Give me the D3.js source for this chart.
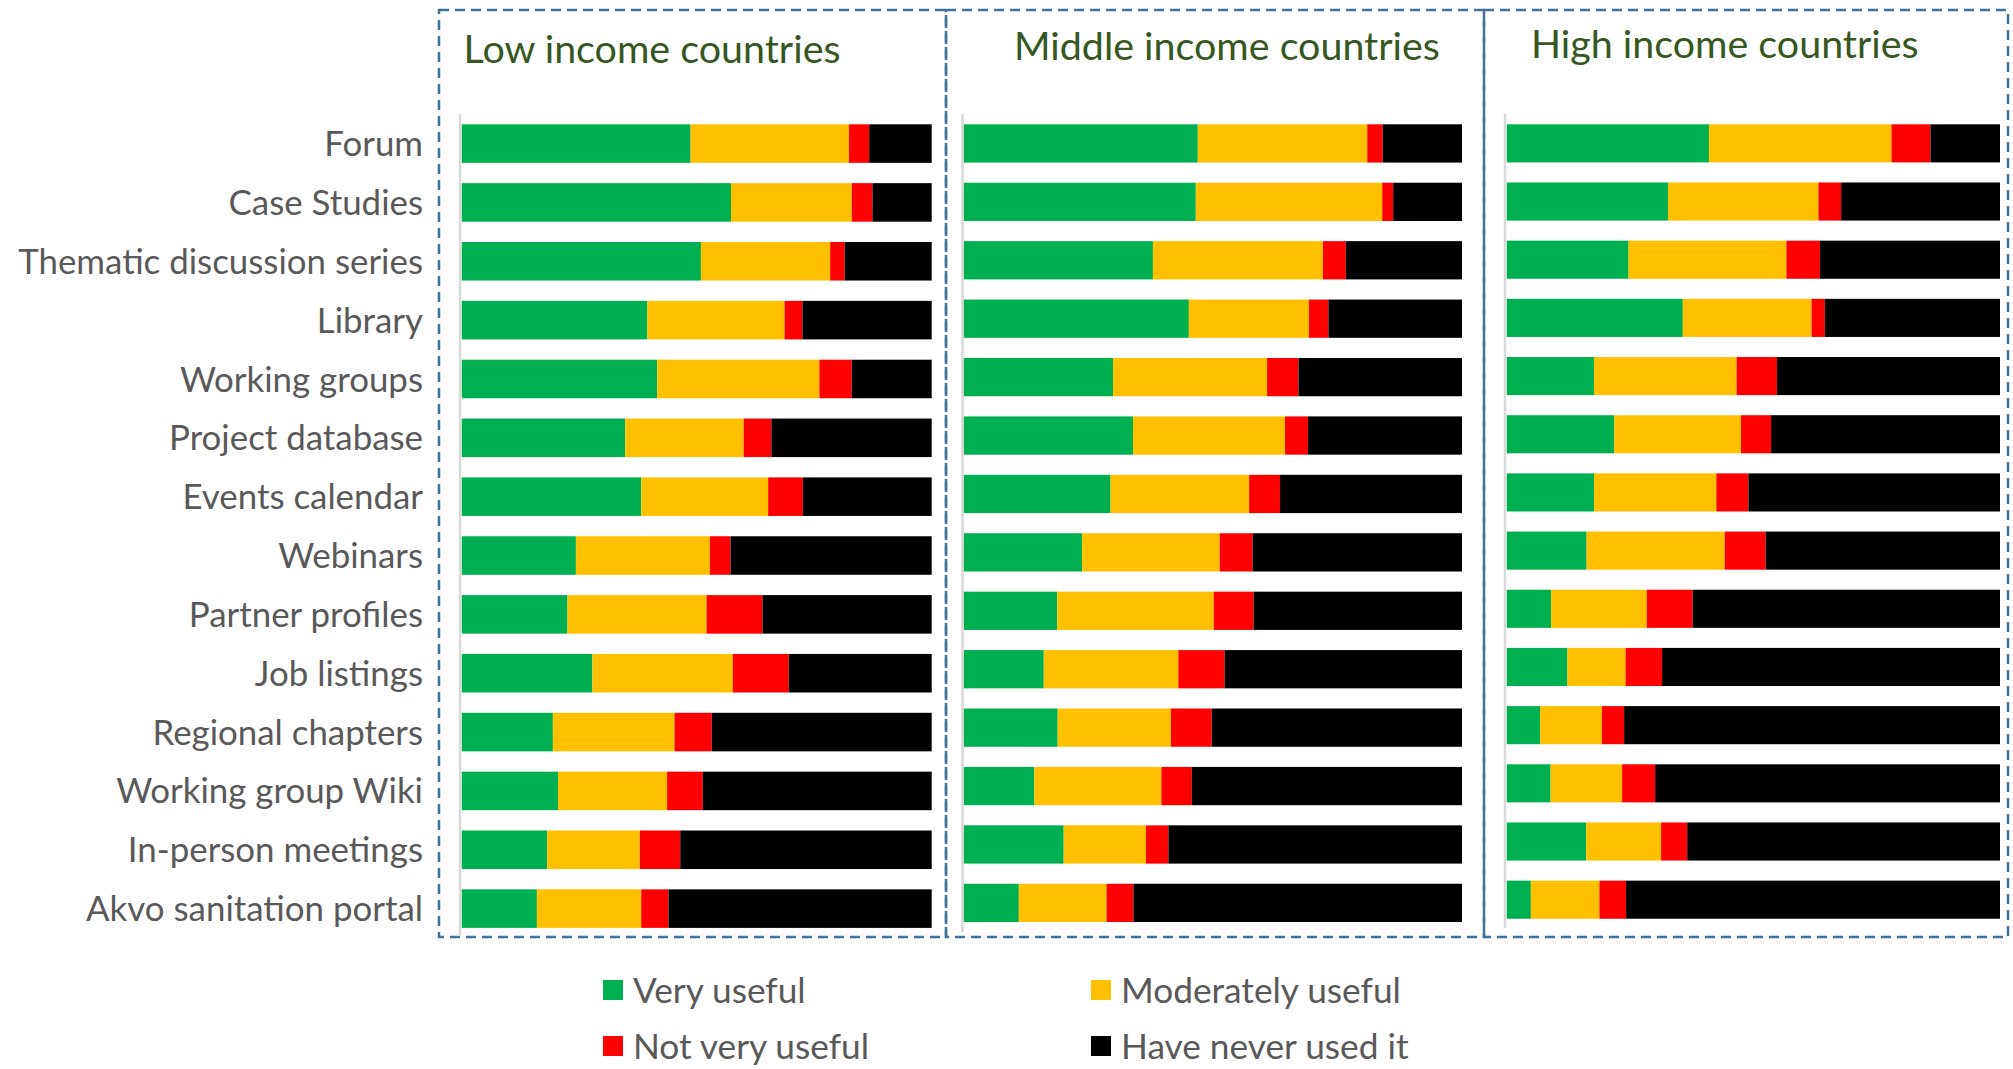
<!DOCTYPE html>
<html><head><meta charset="utf-8">
<script src="https://cdn.jsdelivr.net/npm/d3@7"></script>
<style>html,body{margin:0;padding:0;background:#fff;}svg{display:block;}</style>
</head><body>
<script>
const categories = ["Forum","Case Studies","Thematic discussion series","Library","Working groups","Project database","Events calendar","Webinars","Partner profiles","Job listings","Regional chapters","Working group Wiki","In-person meetings","Akvo sanitation portal"];
const seriesNames = ["Very useful","Moderately useful","Not very useful","Have never used it"];
const panelTitles = ["Low income countries","Middle income countries","High income countries"];

const lowVery     = [48.7,57.3,50.9,39.5,41.6,34.8,38.2,24.3,22.5,27.8,19.4,20.5,18.2,16.0];
const lowModerate = [33.7,25.7,27.5,29.2,34.5,25.2,27.0,28.5,29.6,29.9,25.9,23.2,19.7,22.2];
const lowNotVery  = [4.3,4.4,3.1,3.8,6.9,5.9,7.4,4.4,11.9,11.9,7.9,7.6,8.6,5.8];
const lowNever    = [13.3,12.6,18.5,27.5,17.0,34.1,27.4,42.8,36.0,30.4,46.8,48.7,53.5,56.0];

const midVery     = [47.0,46.6,38.0,45.2,30.0,34.0,29.5,23.8,18.8,16.1,18.9,14.2,20.1,11.1];
const midModerate = [34.0,37.4,34.1,24.1,30.9,30.5,27.8,27.6,31.4,27.0,22.7,25.5,16.5,17.6];
const midNotVery  = [3.1,2.2,4.6,3.9,6.3,4.6,6.2,6.6,8.0,9.3,8.2,6.1,4.5,5.4];
const midNever    = [15.9,13.8,23.3,26.8,32.8,30.9,36.5,42.0,41.8,47.6,50.2,54.2,58.9,65.9];

const highVery     = [41.0,32.7,24.7,35.7,17.7,21.8,17.7,16.2,9.0,12.3,6.8,8.9,16.1,4.9];
const highModerate = [37.0,30.5,32.0,26.1,28.9,25.7,24.8,28.0,19.4,11.8,12.5,14.5,15.2,13.9];
const highNotVery  = [7.9,4.6,6.8,2.7,8.2,6.1,6.5,8.3,9.3,7.4,4.5,6.7,5.3,5.4];
const highNever    = [14.1,32.2,36.5,35.5,45.2,46.4,51.0,47.5,62.3,68.5,76.2,69.9,63.4,75.8];

const colors = ["#00B050","#FFC000","#FF0000","#000000"];
const FONT = "Lato, 'Open Sans', sans-serif";
const W = 2013, H = 1069;

const svg = d3.select("body").append("svg").attr("width", W).attr("height", H);

const panels = [
  {title: panelTitles[0], vals: [lowVery, lowModerate, lowNotVery, lowNever],
   x0: 461.7, x1: 931.7, firstTop: 124.3, step: 58.85,
   box: [439, 946], axisX: 460, axisY: [114, 935], titleX: 463.6, titleY: 63},
  {title: panelTitles[1], vals: [midVery, midModerate, midNotVery, midNever],
   x0: 963.5, x1: 1462, firstTop: 124.3, step: 58.42,
   box: [946, 1484], axisX: 962.5, axisY: [114, 932], titleX: 1014, titleY: 60},
  {title: panelTitles[2], vals: [highVery, highModerate, highNotVery, highNever],
   x0: 1506.7, x1: 2000, firstTop: 124.3, step: 58.18,
   box: [1484, 2008], axisX: 1505, axisY: [114, 928], titleX: 1531, titleY: 58}
];

const PAD = 0.345;
const boxTop = 10, boxBottom = 937;

function fitSize(text, target, base) {
  const t = svg.append("text").attr("font-family", FONT).attr("font-size", base).text(text);
  const w = t.node().getComputedTextLength();
  t.remove();
  return base * target / w;
}

const labelSize = fitSize("Thematic discussion series", 405, 32);
const titleSize = fitSize("Low income countries", 377, 40);
const legendSize = fitSize("Moderately useful", 280, 30);

panels.forEach((p, pi) => {
  const data = categories.map((c, i) => {
    const o = {cat: c};
    seriesNames.forEach((s, k) => o[s] = p.vals[k][i]);
    return o;
  });
  const stack = d3.stack().keys(seriesNames)(data);

  const start = p.firstTop - PAD * p.step;
  const end = start + p.step * (categories.length + PAD);
  const y = d3.scaleBand().domain(categories).range([start, end]).paddingInner(PAD).paddingOuter(PAD);
  const x = d3.scaleLinear().domain([0, 100]).range([p.x0, p.x1]);

  svg.append("rect")
    .attr("x", p.box[0]).attr("y", boxTop)
    .attr("width", p.box[1] - p.box[0]).attr("height", boxBottom - boxTop)
    .attr("fill", "none").attr("stroke", "#41719C").attr("stroke-width", 2.5)
    .attr("stroke-dasharray", "10,6");

  svg.append("text").attr("x", p.titleX).attr("y", p.titleY)
    .attr("font-family", FONT).attr("font-size", titleSize)
    .attr("fill", "#375623").text(p.title);

  svg.append("g").selectAll("g").data(stack).join("g")
    .attr("fill", (d, k) => colors[k])
    .selectAll("rect").data(d => d).join("rect")
    .attr("x", d => x(d[0]))
    .attr("width", d => x(d[1]) - x(d[0]))
    .attr("y", d => y(d.data.cat))
    .attr("height", y.bandwidth());

  svg.append("line").attr("x1", p.axisX).attr("x2", p.axisX)
    .attr("y1", p.axisY[0]).attr("y2", p.axisY[1])
    .attr("stroke", "#d9d9d9").attr("stroke-width", 2.5);

  if (pi === 0) {
    const ax = d3.axisLeft(y).tickSize(0).tickPadding(p.axisX - 423);
    const g = svg.append("g").attr("transform", `translate(${p.axisX},0)`).call(ax);
    g.select(".domain").remove();
    g.selectAll("text").attr("font-family", FONT).attr("font-size", labelSize)
      .attr("fill", "#595959").attr("dy", "0.36em");
  }
});

const legendPos = [[603, 990], [1091, 990], [603, 1046], [1091, 1046]];
const lg = svg.append("g").selectAll("g").data(seriesNames).join("g")
  .attr("transform", (d, i) => `translate(${legendPos[i][0]},${legendPos[i][1]})`);
lg.append("rect").attr("x", 0).attr("y", -10).attr("width", 20).attr("height", 20)
  .attr("fill", (d, i) => colors[i]);
lg.append("text").attr("x", 30).attr("y", 0).attr("dy", "0.36em")
  .attr("font-family", FONT).attr("font-size", legendSize).attr("fill", "#595959")
  .text(d => d);
</script>
</body></html>
